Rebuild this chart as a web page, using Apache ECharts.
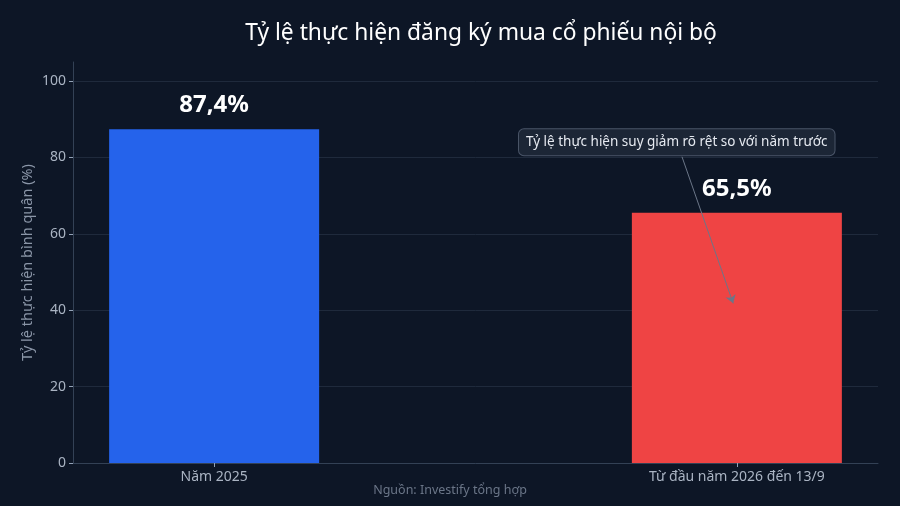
<!DOCTYPE html>
<html>
<head>
<meta charset="utf-8">
<script src="https://cdn.jsdelivr.net/npm/echarts@6/dist/echarts.min.js"></script>
<style>
  html, body { margin: 0; padding: 0; background: #0d1626; }
  #main { width: 900px; height: 506px; }
</style>
</head>
<body>
<div id="main"></div>
<script>
// du lieu
var categories = ['Năm 2025', 'Từ đầu năm 2026 đến 13/9'];
var catPos = [0, 1];
var rates = [87.4, 65.5];
var barColors = ['#2563eb', '#ef4444'];
var yTicks = [0, 20, 40, 60, 80, 100];
var noteText = 'Tỷ lệ thực hiện suy giảm rõ rệt so với năm trước';
var noteAt = [0.885, 84];
var arrowFrom = [0.895, 80.2];
var arrowTo = [0.993, 41.8];

var chart = echarts.init(document.getElementById('main'));

var barData = rates.map(function (v, i) {
    return { value: [catPos[i], v], itemStyle: { color: barColors[i] } };
});

chart.setOption({
    backgroundColor: '#0d1626',
    textStyle: { fontFamily: 'Noto Sans' },
    title: {
        text: 'Tỷ lệ thực hiện đăng ký mua cổ phiếu nội bộ',
        left: 476,
        textAlign: 'center',
        top: 17,
        textStyle: { color: '#ffffff', fontSize: 22.8, fontWeight: 'normal', fontFamily: 'Noto Sans' }
    },
    grid: { left: 73, right: 22, top: 62, bottom: 43 },
    xAxis: {
        type: 'value',
        min: -0.27,
        max: 1.27,
        splitLine: { show: false },
        axisLine: { show: true, lineStyle: { color: '#334155' } },
        axisTick: { show: true, customValues: catPos, length: 4, lineStyle: { color: '#94a3b8' } },
        axisLabel: {
            customValues: catPos,
            color: '#aab4c3',
            fontSize: 14,
            margin: 7,
            formatter: function (v) { return categories[Math.round(v)]; }
        }
    },
    yAxis: {
        type: 'value',
        min: 0,
        max: 105,
        interval: 20,
        name: 'Tỷ lệ thực hiện bình quân (%)',
        nameLocation: 'middle',
        nameGap: 38,
        nameMoveOverlap: false,
        nameTextStyle: { color: '#8b96a8', fontSize: 14.5 },
        axisLine: { show: true, onZero: false, lineStyle: { color: '#334155' } },
        axisTick: { show: true, customValues: yTicks, length: 4, lineStyle: { color: '#94a3b8' } },
        axisLabel: { customValues: yTicks, color: '#aab4c3', fontSize: 14, margin: 7 },
        splitLine: { show: true, lineStyle: { color: '#1f2a3c', width: 1 } }
    },
    series: [{
        type: 'bar',
        data: barData,
        barWidth: 210,
        label: {
            show: true,
            position: 'top',
            distance: 12,
            color: '#ffffff',
            fontSize: 24,
            fontWeight: 'bold',
            formatter: function (p) { return p.value[1].toFixed(1).replace('.', ',') + '%'; }
        },
        markLine: {
            silent: true,
            symbol: ['none', 'arrow'],
            symbolSize: 8,
            lineStyle: { color: '#6b7688', width: 1, type: 'solid' },
            label: { show: false },
            data: [[{ coord: arrowFrom }, { coord: arrowTo }]]
        },
        markPoint: {
            silent: true,
            symbol: 'circle',
            symbolSize: 0,
            data: [{ coord: noteAt }],
            label: {
                show: true,
                position: 'inside',
                formatter: noteText,
                color: '#e5e9f0',
                fontSize: 13.5,
                backgroundColor: '#1c2636',
                borderColor: '#4a5568',
                borderWidth: 1,
                borderRadius: 5,
                padding: [6, 7]
            }
        }
    }],
    graphic: [{
        type: 'text',
        left: 'center',
        top: 484,
        style: { text: 'Nguồn: Investify tổng hợp', fill: '#6b7688', fontSize: 12.5, fontFamily: 'Noto Sans' }
    }]
});
</script>
</body>
</html>
